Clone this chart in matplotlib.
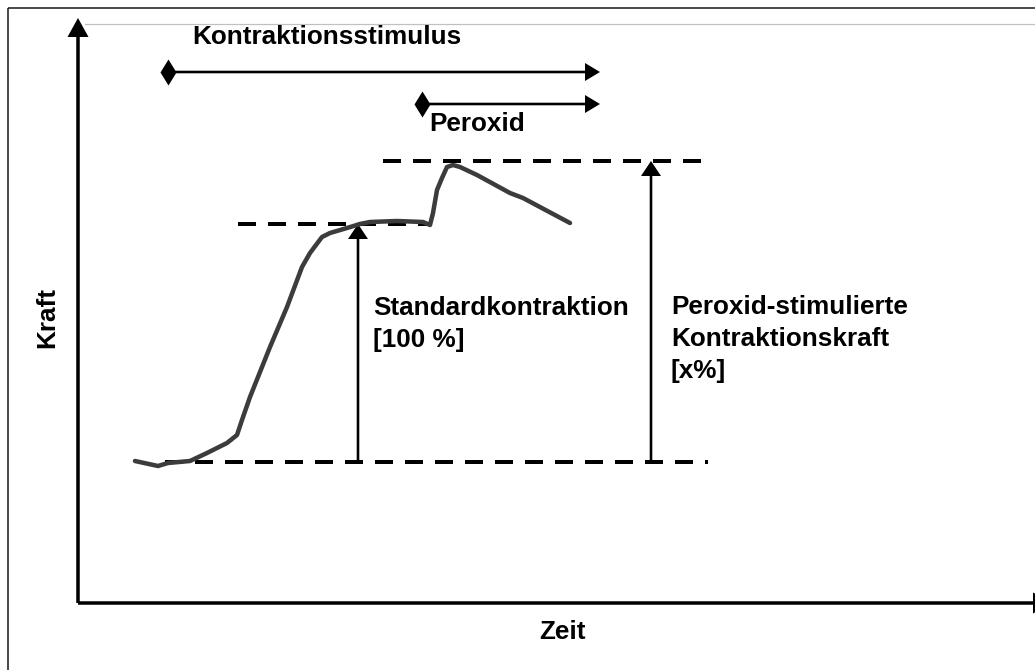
import matplotlib.pyplot as plt
from matplotlib.patches import Rectangle

plt.rcParams['font.family'] = ['Liberation Sans', 'DejaVu Sans']

W, H = 1035, 670
PX = 0.72  # points per pixel at dpi=100

# force trace (schematic, pixel space)
curve_x = [135, 158, 168, 190, 207, 227, 237, 242, 250, 270, 287, 302, 310, 322, 330,
           347, 360, 370, 397, 423, 430, 433, 437, 442, 447, 453, 460, 477, 510, 523, 570]
curve_y = [461, 466, 463, 461, 453, 443, 435, 420, 397, 347, 307, 267, 253, 237, 233,
           228, 224, 222, 221, 222, 225, 213, 190, 178, 167, 165, 167, 175, 193, 198, 223]

# levels
base_y, std_y, peak_y = 462, 224, 161
dashed = [(165, 708, base_y), (238, 430, std_y), (383, 708, peak_y)]

# stimulus bars: (start, end, y)
stim_bars = [(168, 600, 72), (422, 600, 104)]

fig = plt.figure(figsize=(W / 100, H / 100), dpi=100)
ax = fig.add_axes([0, 0, 1, 1])
ax.set_xlim(0, W)
ax.set_ylim(H, 0)
ax.axis('off')

# frame
ax.add_patch(Rectangle((8, 8), 2000, 2000, fill=False, ec='#222222', lw=1.6 * PX))
ax.plot([85, W], [24, 24], color='#c0c0c0', lw=1.2 * PX)

# axes arrows
ax.arrow(78, 603, 0, 18 - 603, width=3.5, head_width=21, head_length=19,
         length_includes_head=True, fc='black', ec='none')
ax.arrow(78, 603, 1052 - 78, 0, width=3.5, head_width=21, head_length=19,
         length_includes_head=True, fc='black', ec='none')

# dashed guide lines
for x0, x1, y in dashed:
    ax.plot([x0, x1], [y, y], color='black', lw=4 * PX, ls=(0, (18 / 4, 12 / 4)),
            solid_capstyle='butt', dash_capstyle='butt')

# curve
ax.plot(curve_x, curve_y, color='#3c3c3c', lw=4.5 * PX, solid_joinstyle='round',
        solid_capstyle='round')

# stimulus bars
for x0, x1, y in stim_bars:
    ax.arrow(x0, y, x1 - x0, 0, width=2.6, head_width=18, head_length=15,
             length_includes_head=True, fc='black', ec='none')
    ax.plot([x0], [y], marker='d', ms=19 * PX, color='black', mec='none')

# vertical amplitude arrows
for x, y_top in [(358, std_y), (651, peak_y)]:
    ax.arrow(x, base_y, 0, y_top - base_y, width=2.6, head_width=20, head_length=15,
             length_includes_head=True, fc='black', ec='none')

fs = 18.8
kw = dict(fontsize=fs, fontweight='bold', color='black')
ax.text(192, 37, 'Kontraktionsstimulus', ha='left', va='center', **kw)
ax.text(429, 124, 'Peroxid', ha='left', va='center', **kw)
ax.text(373, 324, 'Standardkontraktion\n[100 %]', ha='left', va='center',
        linespacing=1.4, **kw)
ax.text(671, 339, 'Peroxid-stimulierte\nKontraktionskraft\n[x%]', ha='left',
        va='center', linespacing=1.4, **kw)
ax.text(47, 318, 'Kraft', ha='center', va='center', rotation=90, **kw)
ax.text(563, 632, 'Zeit', ha='center', va='center', **kw)

fig.savefig('out.png', dpi=100)
